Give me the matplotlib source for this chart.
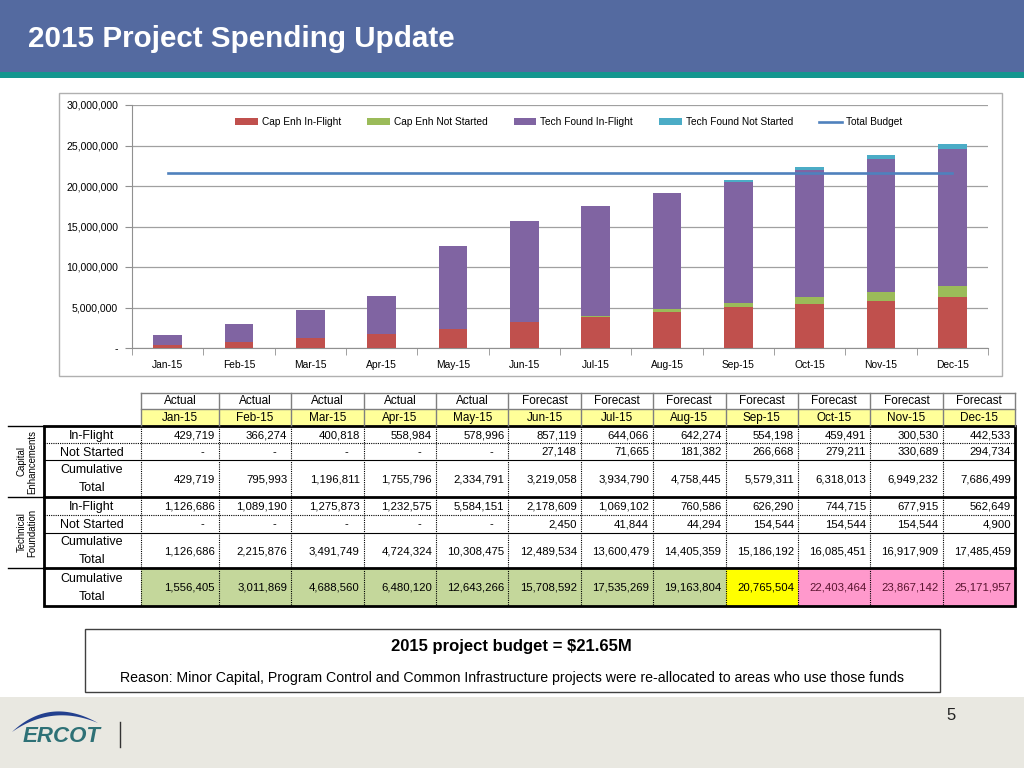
import numpy as np
import matplotlib
matplotlib.use('Agg')
import matplotlib.pyplot as plt
from matplotlib.patches import Rectangle, Polygon, Patch
from matplotlib.lines import Line2D
from matplotlib.ticker import FuncFormatter, MultipleLocator

# ---------------- data ----------------
months = ['Jan-15', 'Feb-15', 'Mar-15', 'Apr-15', 'May-15', 'Jun-15',
          'Jul-15', 'Aug-15', 'Sep-15', 'Oct-15', 'Nov-15', 'Dec-15']
phase = ['Actual'] * 5 + ['Forecast'] * 7

cap_inflight = [429719, 366274, 400818, 558984, 578996, 857119,
                644066, 642274, 554198, 459491, 300530, 442533]
cap_notstarted = [0, 0, 0, 0, 0, 27148, 71665, 181382, 266668, 279211, 330689, 294734]
cap_cumulative = [429719, 795993, 1196811, 1755796, 2334791, 3219058,
                  3934790, 4758445, 5579311, 6318013, 6949232, 7686499]

tech_inflight = [1126686, 1089190, 1275873, 1232575, 5584151, 2178609,
                 1069102, 760586, 626290, 744715, 677915, 562649]
tech_notstarted = [0, 0, 0, 0, 0, 2450, 41844, 44294, 154544, 154544, 154544, 4900]
tech_cumulative = [1126686, 2215876, 3491749, 4724324, 10308475, 12489534,
                   13600479, 14405359, 15186192, 16085451, 16917909, 17485459]

total_cumulative = [1556405, 3011869, 4688560, 6480120, 12643266, 15708592,
                    17535269, 19163804, 20765504, 22403464, 23867142, 25171957]

total_budget = 21650000
series_labels = ['Cap Enh In-Flight', 'Cap Enh Not Started', 'Tech Found In-Flight',
                 'Tech Found Not Started', 'Total Budget']

# ---------------- figure ----------------
plt.rcParams['font.family'] = ['Liberation Sans', 'DejaVu Sans']
W, H = 1024, 768
fig = plt.figure(figsize=(10.24, 7.68), dpi=100)
fig.patch.set_facecolor('white')

ov = fig.add_axes([0, 0, 1, 1])
ov.set_xlim(0, W)
ov.set_ylim(H, 0)
ov.axis('off')

# header
ov.add_patch(Rectangle((0, 0), W, 72, facecolor='#546AA0', edgecolor='none'))
ov.add_patch(Rectangle((0, 72), W, 6, facecolor='#14968F', edgecolor='none'))
ov.text(28, 39, '2015 Project Spending Update', color='white', fontsize=21.3,
        fontweight='bold', ha='left', va='center')

# chart frame
ov.add_patch(Rectangle((59, 93), 943, 283, facecolor='white', edgecolor='#B0B0B0', lw=1))

# ---------------- chart ----------------
ax_l, ax_r, ax_t, ax_b = 132, 988, 105, 348
ax = fig.add_axes([ax_l / W, (H - ax_b) / H, (ax_r - ax_l) / W, (ax_b - ax_t) / H])
x = np.arange(len(months))
c1 = np.cumsum(cap_inflight)
c2 = np.cumsum(cap_notstarted)
c3 = np.cumsum(tech_inflight)
c4 = np.cumsum(tech_notstarted)
colors = ['#C0504D', '#9BBB59', '#8064A2', '#4BACC6']
bw = 0.4
ax.bar(x, c1, bw, color=colors[0], zorder=3)
ax.bar(x, c2, bw, bottom=c1, color=colors[1], zorder=3)
ax.bar(x, c3, bw, bottom=c1 + c2, color=colors[2], zorder=3)
ax.bar(x, c4, bw, bottom=c1 + c2 + c3, color=colors[3], zorder=3)
ax.plot([x[0], x[-1]], [total_budget, total_budget], color='#4F81BD', lw=1.9, zorder=4)

ax.set_xlim(-0.5, len(months) - 0.5)
ax.set_ylim(0, 30000000)
ax.yaxis.set_major_locator(MultipleLocator(5000000))
ax.yaxis.set_major_formatter(FuncFormatter(lambda v, p: '-' if v == 0 else f'{int(v):,}'))
ax.grid(axis='y', color='#A0A0A0', lw=0.9, zorder=0)
ax.set_axisbelow(True)
for s in ['top', 'right']:
    ax.spines[s].set_visible(False)
ax.spines['left'].set_color('#909090')
ax.spines['bottom'].set_color('#909090')
ax.set_xticks(x)
ax.set_xticklabels(months, fontsize=7.4)
ax.set_xticks(np.arange(-0.5, len(months)), minor=True)
ax.tick_params(axis='x', which='major', length=0, pad=9)
ax.tick_params(axis='x', which='minor', length=5, color='#909090', direction='out')
ax.tick_params(axis='y', length=5, color='#909090', labelsize=7.6, pad=5)

handles = [Patch(facecolor=c, edgecolor='none') for c in colors] + \
          [Line2D([0], [0], color='#4F81BD', lw=1.9)]
ax.legend(handles, series_labels, ncol=5, loc='center', bbox_to_anchor=(0.51, 0.93),
          frameon=False, fontsize=7.3, handlelength=2.2, handleheight=0.6,
          columnspacing=2.6, handletextpad=0.4)

# ---------------- table ----------------
col_x = [141, 219] + [219 + 72.36 * k for k in range(1, 12)]
tl, tr = 44, 1015
hdr_top, hdr_mid, hdr_bot = 393, 409, 426

# header
ov.add_patch(Rectangle((col_x[0], hdr_mid), tr - col_x[0], hdr_bot - hdr_mid,
                       facecolor='#FFFF99', edgecolor='none'))
for yy in (hdr_top, hdr_mid):
    ov.plot([col_x[0], tr], [yy, yy], color='#7F7F7F', lw=1)
for xx in col_x:
    ov.plot([xx, xx], [hdr_top, hdr_bot], color='#7F7F7F', lw=1)
for i in range(len(months)):
    cx = (col_x[i] + col_x[i + 1]) / 2
    ov.text(cx, (hdr_top + hdr_mid) / 2 + 0.5, phase[i], ha='center', va='center', fontsize=8.5)
    ov.text(cx, (hdr_mid + hdr_bot) / 2 + 0.5, months[i], ha='center', va='center', fontsize=8.5)

# final row fills
final_fill = ['#C4D79B'] * 8 + ['#FFFF00'] + ['#FF99CC'] * 3
for i in range(len(months)):
    ov.add_patch(Rectangle((col_x[i], 568), col_x[i + 1] - col_x[i], 38,
                           facecolor=final_fill[i], edgecolor='none'))

# rows
rows = [
    (426, 443, ['In-Flight'], cap_inflight),
    (443, 460, ['Not Started'], cap_notstarted),
    (460, 497, ['Cumulative', 'Total'], cap_cumulative),
    (497, 515, ['In-Flight'], tech_inflight),
    (515, 533, ['Not Started'], tech_notstarted),
    (533, 568, ['Cumulative', 'Total'], tech_cumulative),
    (568, 606, ['Cumulative', 'Total'], total_cumulative),
]
for (y0, y1, lab, vals) in rows:
    ym = (y0 + y1) / 2
    if len(lab) == 1:
        ov.text(92, ym + 1, lab[0], ha='center', va='center', fontsize=9)
    else:
        ov.text(92, ym - 8.5, lab[0], ha='center', va='center', fontsize=9)
        ov.text(92, ym + 9.5, lab[1], ha='center', va='center', fontsize=9)
    for i, v in enumerate(vals):
        tc = '#5A1530' if (y0 == 568 and i >= 9) else 'black'
        if v == 0:
            ov.text(col_x[i + 1] - 17, ym + 0.5, '-', ha='center', va='center', fontsize=8)
        else:
            ov.text(col_x[i + 1] - 4, ym + 0.5, f'{v:,}', ha='right', va='center',
                    fontsize=8.2, color=tc)

# grid lines of table
for yy in (443, 515):
    ov.plot([tl, tr], [yy, yy], color='black', lw=0.8, ls=(0, (1, 1)))
for yy in (460, 533):
    ov.plot([tl, tr], [yy, yy], color='black', lw=0.8)
for xx in col_x[:-1]:
    ov.plot([xx, xx], [426, 606], color='black', lw=0.8, ls=(0, (1, 1)))
for yy in (497, 568):
    ov.plot([tl, tr], [yy, yy], color='black', lw=2)
ov.add_patch(Rectangle((tl, 426), tr - tl, 180, facecolor='none', edgecolor='black', lw=2))
for yy in (426, 497, 568):
    ov.plot([8, tl], [yy, yy], color='black', lw=1)

# group labels
ov.text(27, 461.5, 'Capital\nEnhancements', rotation=90, ha='center', va='center',
        fontsize=6.9, linespacing=1.05)
ov.text(27, 532.5, 'Technical\nFoundation', rotation=90, ha='center', va='center',
        fontsize=6.9, linespacing=1.05)

# ---------------- text box ----------------
ov.add_patch(Rectangle((85, 629), 855, 63, facecolor='white', edgecolor='#404040', lw=1))
ov.text(511, 646, '2015 project budget = $21.65M', ha='center', va='center',
        fontsize=12, fontweight='bold')
ov.text(512, 678, 'Reason: Minor Capital, Program Control and Common Infrastructure projects '
        'were re-allocated to areas who use those funds', ha='center', va='center', fontsize=10.2)

# ---------------- footer ----------------
ov.add_patch(Rectangle((0, 697), W, 71, facecolor='#E9E8E1', edgecolor='none'))
t = np.linspace(0, 1, 60)
def qbez(p0, p1, p2, tt):
    return ((1 - tt) ** 2)[:, None] * np.array(p0) + (2 * (1 - tt) * tt)[:, None] * np.array(p1) \
        + (tt ** 2)[:, None] * np.array(p2)
outer = qbez((12, 732), (50, 696), (98, 723), t)
inner = qbez((98, 723), (52, 704), (12, 732), t)
ov.add_patch(Polygon(np.vstack([outer, inner]), closed=True, facecolor='#23408E', edgecolor='none'))
ov.text(62, 737, 'ERCOT', ha='center', va='center', fontsize=16, fontweight='bold',
        style='italic', color='#2E7176')
ov.plot([120, 120], [722, 747], color='#333333', lw=1)
ov.text(951, 716, '5', ha='center', va='center', fontsize=12, color='#222222')

fig.savefig('out.png', dpi=100, facecolor='white')
